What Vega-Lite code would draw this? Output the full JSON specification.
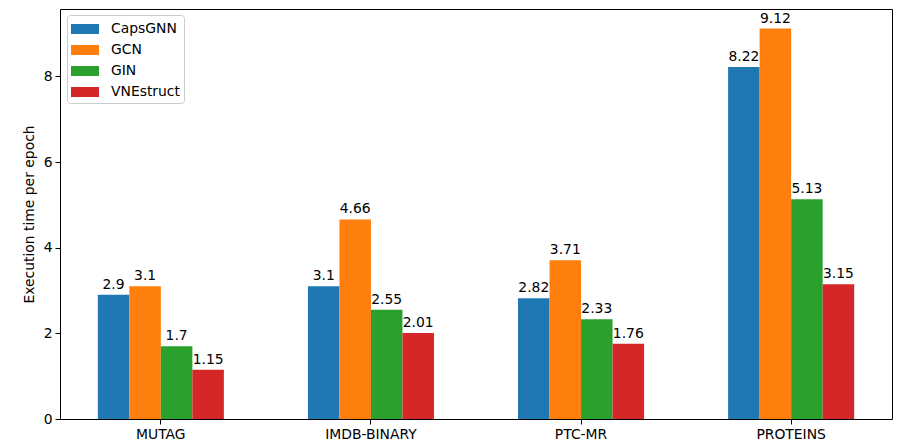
{
  "$schema": "https://vega.github.io/schema/vega-lite/v6.json",
  "width": 832,
  "height": 410,
  "autosize": {"type": "none"},
  "padding": {"left": 60, "top": 9, "right": 17, "bottom": 21},
  "data": {
    "values": [
      {"dataset": "MUTAG", "model": "CapsGNN", "time": 2.9},
      {"dataset": "MUTAG", "model": "GCN", "time": 3.1},
      {"dataset": "MUTAG", "model": "GIN", "time": 1.7},
      {"dataset": "MUTAG", "model": "VNEstruct", "time": 1.15},
      {"dataset": "IMDB-BINARY", "model": "CapsGNN", "time": 3.1},
      {"dataset": "IMDB-BINARY", "model": "GCN", "time": 4.66},
      {"dataset": "IMDB-BINARY", "model": "GIN", "time": 2.55},
      {"dataset": "IMDB-BINARY", "model": "VNEstruct", "time": 2.01},
      {"dataset": "PTC-MR", "model": "CapsGNN", "time": 2.82},
      {"dataset": "PTC-MR", "model": "GCN", "time": 3.71},
      {"dataset": "PTC-MR", "model": "GIN", "time": 2.33},
      {"dataset": "PTC-MR", "model": "VNEstruct", "time": 1.76},
      {"dataset": "PROTEINS", "model": "CapsGNN", "time": 8.22},
      {"dataset": "PROTEINS", "model": "GCN", "time": 9.12},
      {"dataset": "PROTEINS", "model": "GIN", "time": 5.13},
      {"dataset": "PROTEINS", "model": "VNEstruct", "time": 3.15}
    ]
  },
  "encoding": {
    "x": {
      "field": "dataset",
      "type": "nominal",
      "sort": null,
      "title": null,
      "scale": {"paddingInner": 0.4, "paddingOuter": 0.18},
      "axis": {"labelAngle": 0, "labelFontSize": 13.9, "labelColor": "black", "tickColor": "black", "tickSize": 5, "domain": false, "labelPadding": 3}
    },
    "xOffset": {
      "field": "model",
      "type": "nominal",
      "scale": {"paddingInner": 0, "paddingOuter": 0}
    },
    "y": {
      "field": "time",
      "type": "quantitative",
      "title": "Execution time per epoch",
      "scale": {"domain": [0, 9.576], "nice": false},
      "axis": {"values": [0, 2, 4, 6, 8], "grid": false, "domain": false, "labelFontSize": 13.9, "labelColor": "black", "tickColor": "black", "tickSize": 5, "titleFontSize": 13.9, "titleFontWeight": "normal", "titleColor": "black", "titlePadding": 7, "labelPadding": 3}
    }
  },
  "layer": [
    {
      "mark": {"type": "bar"},
      "encoding": {
        "color": {
          "field": "model",
          "type": "nominal",
          "title": null,
          "scale": {"domain": ["CapsGNN", "GCN", "GIN", "VNEstruct"], "range": ["#1f77b4", "#ff7f0e", "#2ca02c", "#d62728"]},
          "legend": {
            "orient": "none",
            "legendX": 7,
            "legendY": 6,
            "symbolType": "M-1.4,-0.5H1.4V0.5H-1.4Z",
            "symbolSize": 400,
            "symbolStrokeWidth": 0,
            "symbolOffset": 4,
            "labelFontSize": 13.9,
            "labelColor": "black",
            "labelOffset": 16,
            "rowPadding": 4,
            "padding": 4,
            "strokeColor": "#cccccc",
            "fillColor": "white",
            "cornerRadius": 3
          }
        }
      }
    },
    {
      "mark": {"type": "text", "baseline": "bottom", "dy": -3, "fontSize": 13.9, "color": "black"},
      "encoding": {
        "text": {"field": "time", "type": "quantitative"}
      }
    }
  ],
  "config": {
    "font": "DejaVu Sans",
    "view": {"stroke": "black", "strokeWidth": 1}
  }
}
